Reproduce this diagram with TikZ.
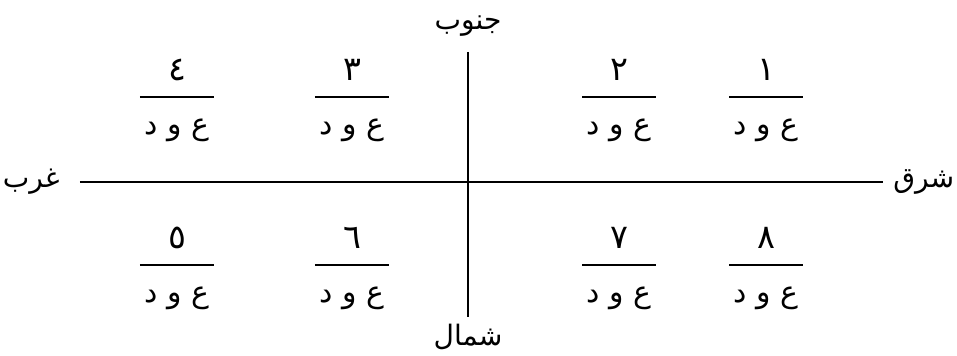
\documentclass[tikz,border=0pt]{standalone}
\usepackage{fontspec}
\usepackage{tikz}
\usetikzlibrary{positioning}
\TeXXeTstate=1
\newfontfamily\arabicfont[Script=Arabic]{DejaVu Sans}
\tikzset{
  axis/.style={draw=black, line width=0.9pt},
  bar/.style={draw=black, line width=0.7pt},
  digit/.style={font=\arabicfont\fontsize{19}{22}\selectfont, inner sep=0pt},
  word/.style={font=\arabicfont\fontsize{17}{20}\selectfont, inner sep=0pt},
  compass/.style={font=\arabicfont\fontsize{16}{18}\selectfont, inner sep=0pt},
}
\newcommand{\halfbar}{0.74}
\newcommand{\cell}[4]{%
  \coordinate (#1) at (#3,#4);%
  \coordinate (#1-l) at ({#3-\halfbar},#4);%
  \coordinate (#1-r) at ({#3+\halfbar},#4);%
  \draw[bar] (#1-l) -- (#1-r);%
  \node[digit, above=0.32cm of #1] (#1-num) {#2};%
  \node[word, below=0.44cm of #1] (#1-txt) {\beginR ع و د\endR};%
}

\begin{document}
\begin{tikzpicture}

  \useasboundingbox (-9.36,-3.46) rectangle (9.78,3.64);

  % --- axes ----------------------------------------------------------------
  \coordinate (w-end) at (-7.76,0);
  \coordinate (e-end) at (8.30,0);
  \coordinate (n-end) at (0,2.60);
  \coordinate (s-end) at (0,-2.70);
  \draw[axis] (w-end) -- (e-end);
  \draw[axis] (n-end) -- (s-end);

  \node[compass, left=0.4cm of w-end] (west) {\beginR غرب\endR};
  \node[compass, right=0.2cm of e-end] (east) {\beginR شرق\endR};
  \node[compass, above=0.3cm of n-end] (top) {\beginR جنوب\endR};
  \node[compass, below=0.14cm of s-end] (bottom) {\beginR شمال\endR};

  % --- the eight cells -----------------------------------------------------
  \foreach \n/\d/\x/\y in {c1/١/5.96/1.70, c2/٢/3.02/1.70, c3/٣/-2.32/1.70,
      c4/٤/-5.82/1.70, c5/٥/-5.82/-1.66, c6/٦/-2.32/-1.66,
      c7/٧/3.02/-1.66, c8/٨/5.96/-1.66} {
    \cell{\n}{\d}{\x}{\y}
  }

\end{tikzpicture}
\end{document}
